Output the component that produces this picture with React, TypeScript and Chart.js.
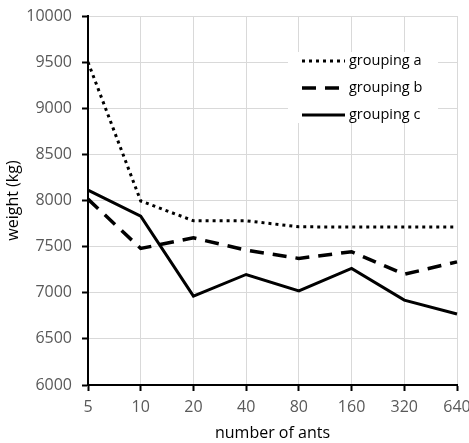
import React, { useEffect, useRef } from "react";
import { Chart, registerables } from "chart.js";

Chart.register(...registerables);

const categories = ["5", "10", "20", "40", "80", "160", "320", "640"];
const groupingA = [9500, 7995, 7780, 7780, 7715, 7712, 7712, 7712];
const groupingB = [8015, 7480, 7595, 7462, 7372, 7445, 7200, 7335];
const groupingC = [8113, 7830, 6963, 7198, 7021, 7263, 6920, 6770];
const seriesLabels = ["grouping a", "grouping b", "grouping c"];

const FONT = "'Open Sans', 'Liberation Sans', sans-serif";

const legendPlugin = {
  id: "insideLegend",
  afterDraw(chart: any) {
    const ctx = chart.ctx;
    ctx.save();
    const bx = 288, by = 52, bw = 150, bh = 71;
    ctx.fillStyle = "#ffffff";
    ctx.fillRect(bx, by, bw, bh);
    const rows = [61, 88, 115];
    chart.data.datasets.forEach((ds: any, i: number) => {
      const y = rows[i];
      ctx.beginPath();
      ctx.strokeStyle = ds.borderColor;
      ctx.lineWidth = ds.borderWidth;
      ctx.setLineDash(ds.borderDash || []);
      ctx.lineCap = "butt";
      ctx.moveTo(302, y);
      ctx.lineTo(345, y);
      ctx.stroke();
      ctx.setLineDash([]);
      ctx.fillStyle = "#000000";
      ctx.font = `14.5px ${FONT}`;
      ctx.textBaseline = "middle";
      ctx.textAlign = "left";
      ctx.fillText(ds.label, 349, y);
    });
    ctx.restore();
  },
};

export default function App() {
  const ref = useRef<HTMLCanvasElement>(null);
  useEffect(() => {
    if (!ref.current) return;
    const chart = new Chart(ref.current, {
      type: "line",
      data: {
        labels: categories,
        datasets: [
          {
            label: seriesLabels[0],
            data: groupingA,
            borderColor: "#000000",
            borderWidth: 3,
            borderDash: [3, 4],
            pointRadius: 0,
            tension: 0,
            fill: false,
          },
          {
            label: seriesLabels[1],
            data: groupingB,
            borderColor: "#000000",
            borderWidth: 3.5,
            borderDash: [14, 9],
            pointRadius: 0,
            tension: 0,
            fill: false,
          },
          {
            label: seriesLabels[2],
            data: groupingC,
            borderColor: "#000000",
            borderWidth: 3,
            pointRadius: 0,
            tension: 0,
            fill: false,
          },
        ],
      },
      options: {
        animation: false,
        responsive: false,
        maintainAspectRatio: false,
        layout: { padding: { top: 16, right: 12, left: 0, bottom: 0 } },
        plugins: {
          legend: { display: false },
          tooltip: { enabled: false },
        },
        scales: {
          x: {
            type: "category",
            offset: false,
            grid: {
              color: "#d9d9d9",
              lineWidth: 1,
              drawTicks: true,
              tickLength: 6,
              tickColor: "#000000",
              tickWidth: 2,
            },
            border: { color: "#000000", width: 2 },
            ticks: {
              color: "#595959",
              font: { family: FONT, size: 16 },
              padding: 7,
              maxRotation: 0,
              autoSkip: false,
            },
            title: {
              display: true,
              text: "number of ants",
              color: "#000000",
              font: { family: FONT, size: 16 },
              padding: { top: 0, bottom: 0 },
            },
            afterFit(scale: any) {
              scale.height = 58;
              scale.paddingRight = 0;
              scale.paddingLeft = 0;
            },
          },
          y: {
            min: 6000,
            max: 10000,
            grid: {
              color: "#d9d9d9",
              lineWidth: 1,
              drawTicks: true,
              tickLength: 6,
              tickColor: "#000000",
              tickWidth: 2,
            },
            border: { color: "#000000", width: 2 },
            ticks: {
              stepSize: 500,
              color: "#595959",
              font: { family: FONT, size: 16 },
              padding: 10,
              callback: (v: any) => String(v),
            },
            title: {
              display: true,
              text: "weight (kg)",
              color: "#000000",
              font: { family: FONT, size: 16 },
              padding: { top: 4, bottom: 0 },
            },
            afterFit(scale: any) {
              scale.width = 88;
              scale.paddingTop = 0;
              scale.paddingBottom = 0;
            },
          },
        },
      },
      plugins: [legendPlugin],
    });
    return () => chart.destroy();
  }, []);
  return (
    <div style={{ position: "fixed", left: 0, top: 0, width: 469, height: 443, background: "#fff" }}>
      <canvas ref={ref} width={469} height={443} style={{ width: 469, height: 443 }} />
    </div>
  );
}
